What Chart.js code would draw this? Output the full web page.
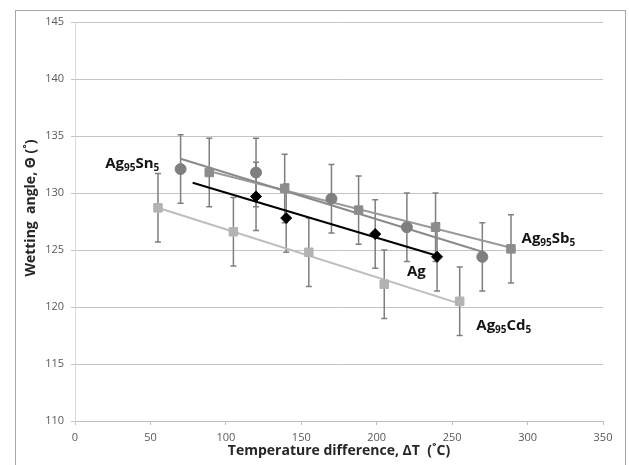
<!DOCTYPE html>
<html>
<head>
<meta charset="utf-8">
<script src="https://cdn.jsdelivr.net/npm/chart.js@4.4.0/dist/chart.umd.min.js"></script>
<style>
  body { margin: 0; background: #fff; }
  #wrap { width: 629px; height: 465px; }
</style>
</head>
<body>
<div id="wrap"><canvas id="graph"></canvas></div>
<script>
// temperature difference (C) vs wetting angle (deg), one set per alloy
const snX = [70, 120, 170, 220, 270];
const snY = [132.1, 131.8, 129.5, 127.0, 124.4];
const snErr = [3, 3, 3, 3, 3];

const sbX = [89, 139, 188, 239, 289];
const sbY = [131.8, 130.4, 128.5, 127.0, 125.1];
const sbErr = [3, 3, 3, 3, 3];

const agX = [120, 140, 199, 240];
const agY = [129.7, 127.8, 126.4, 124.4];
const agErr = [3, 3, 3, 3];

const cdX = [55, 105, 155, 205, 255];
const cdY = [128.7, 126.6, 124.8, 122.0, 120.5];
const cdErr = [3, 3, 3, 3, 3];

// trendline end points
const snTrendX = [70, 271];
const snTrendY = [133.0, 124.8];
const sbTrendX = [89, 289];
const sbTrendY = [131.9, 125.2];
const agTrendX = [78, 240];
const agTrendY = [130.9, 124.5];
const cdTrendX = [55, 255];
const cdTrendY = [128.7, 120.3];

const xTicks = [0, 50, 100, 150, 200, 250, 300, 350];
const yTicks = [110, 115, 120, 125, 130, 135, 140, 145];

// series names: [text, subscript?] pieces, anchored at data coords
const labelParts = [
    [['Ag', false], ['95', true], ['Sn', false], ['5', true]],
    [['Ag', false], ['95', true], ['Sb', false], ['5', true]],
    [['Ag', false]],
    [['Ag', false], ['95', true], ['Cd', false], ['5', true]]
];
const labelX = [20, 296, 220, 266];
const labelY = [132.2, 125.6, 122.7, 118.0];

const FONT = '"Open Sans", "DejaVu Sans", sans-serif';

function toPoints(xs, ys) {
    return xs.map((x, i) => ({ x: x, y: ys[i] }));
}

const errorBars = {
    id: 'errorBars',
    beforeDatasetsDraw(chart) {
        const ctx = chart.ctx;
        const xs = chart.scales.x;
        const ys = chart.scales.y;
        ctx.save();
        ctx.strokeStyle = '#7f7f7f';
        ctx.lineWidth = 1.5;
        chart.data.datasets.forEach((ds) => {
            if (!ds.errors) return;
            ds.data.forEach((p, i) => {
                const px = xs.getPixelForValue(p.x);
                const top = ys.getPixelForValue(p.y + ds.errors[i]);
                const bot = ys.getPixelForValue(p.y - ds.errors[i]);
                ctx.beginPath();
                ctx.moveTo(px, top);
                ctx.lineTo(px, bot);
                ctx.moveTo(px - 3, top);
                ctx.lineTo(px + 3, top);
                ctx.moveTo(px - 3, bot);
                ctx.lineTo(px + 3, bot);
                ctx.stroke();
            });
        });
        ctx.restore();
    }
};

const decorations = {
    id: 'decorations',
    beforeDraw(chart) {
        const ctx = chart.ctx;
        ctx.save();
        ctx.strokeStyle = '#a6a6a6';
        ctx.lineWidth = 1;
        ctx.strokeRect(15.5, 10.5, 610, 470);
        ctx.restore();
    },
    afterDraw(chart) {
        const ctx = chart.ctx;
        const xs = chart.scales.x;
        const ys = chart.scales.y;
        ctx.save();
        ctx.fillStyle = '#262626';
        ctx.textBaseline = 'middle';
        ctx.textAlign = 'center';
        ctx.font = 'bold 14px ' + FONT;
        ctx.fillText('Temperature difference, \u0394T  (\u02DAC)', 339, 451);
        ctx.translate(31, 208);
        ctx.rotate(-Math.PI / 2);
        ctx.fillText('Wetting  angle, \u0398 (\u02DA)', 0, 0);
        ctx.restore();

        // series labels with subscripts
        ctx.save();
        ctx.fillStyle = '#141414';
        ctx.textBaseline = 'alphabetic';
        ctx.textAlign = 'left';
        labelParts.forEach((parts, k) => {
            let px = xs.getPixelForValue(labelX[k]);
            const py = ys.getPixelForValue(labelY[k]);
            parts.forEach(([txt, sub]) => {
                ctx.font = sub ? 'bold 10px ' + FONT : 'bold 15px ' + FONT;
                ctx.fillText(txt, px, sub ? py + 3 : py);
                px += ctx.measureText(txt).width;
            });
        });
        ctx.restore();
    }
};

const datasets = [
    {
        label: 'Ag', data: toPoints(agX, agY), errors: agErr,
        pointStyle: 'rectRot', pointRadius: 5.5, backgroundColor: '#000', borderColor: '#000',
        showLine: false, order: 1
    },
    {
        label: 'Ag95Sn5', data: toPoints(snX, snY), errors: snErr,
        pointStyle: 'circle', pointRadius: 5.5, backgroundColor: '#7f7f7f', borderColor: '#7f7f7f',
        showLine: false, order: 1
    },
    {
        label: 'Ag95Sb5', data: toPoints(sbX, sbY), errors: sbErr,
        pointStyle: 'rect', pointRadius: 6, backgroundColor: '#8c8c8c', borderColor: '#8c8c8c',
        showLine: false, order: 1
    },
    {
        label: 'Ag95Cd5', data: toPoints(cdX, cdY), errors: cdErr,
        pointStyle: 'rect', pointRadius: 6, backgroundColor: '#b3b3b3', borderColor: '#b3b3b3',
        showLine: false, order: 1
    },
    {
        type: 'line', label: 'Sn trend', data: toPoints(snTrendX, snTrendY),
        borderColor: '#8a8a8a', borderWidth: 2, pointRadius: 0, order: 2
    },
    {
        type: 'line', label: 'Sb trend', data: toPoints(sbTrendX, sbTrendY),
        borderColor: '#9a9a9a', borderWidth: 2, pointRadius: 0, order: 2
    },
    {
        type: 'line', label: 'Ag trend', data: toPoints(agTrendX, agTrendY),
        borderColor: '#000', borderWidth: 2, pointRadius: 0, order: 2
    },
    {
        type: 'line', label: 'Cd trend', data: toPoints(cdTrendX, cdTrendY),
        borderColor: '#bdbdbd', borderWidth: 2, pointRadius: 0, order: 2
    }
];

const config = {
    type: 'scatter',
    data: { datasets: datasets },
    options: {
        responsive: true,
        maintainAspectRatio: false,
        animation: false,
        layout: { padding: { left: 15, top: 22, right: 26, bottom: 0 } },
        plugins: { legend: { display: false }, tooltip: { enabled: false } },
        scales: {
            x: {
                type: 'linear',
                min: xTicks[0],
                max: xTicks[xTicks.length - 1],
                ticks: { stepSize: xTicks[1] - xTicks[0], color: '#595959', font: { family: FONT, size: 11 }, padding: 6 },
                grid: { display: true, drawOnChartArea: false, color: '#bfbfbf', tickLength: 4 },
                border: { color: '#bfbfbf' },
                afterFit(scale) { scale.height = 44; }
            },
            y: {
                type: 'linear',
                min: yTicks[0],
                max: yTicks[yTicks.length - 1],
                ticks: { stepSize: yTicks[1] - yTicks[0], color: '#595959', font: { family: FONT, size: 11 }, padding: 7 },
                grid: { color: '#c4c4c4', tickLength: 4 },
                border: { color: '#d9d9d9' },
                afterFit(scale) { scale.width = 60; }
            }
        }
    },
    plugins: [errorBars, decorations]
};

new Chart(document.getElementById('graph').getContext('2d'), config);
</script>
</body>
</html>
